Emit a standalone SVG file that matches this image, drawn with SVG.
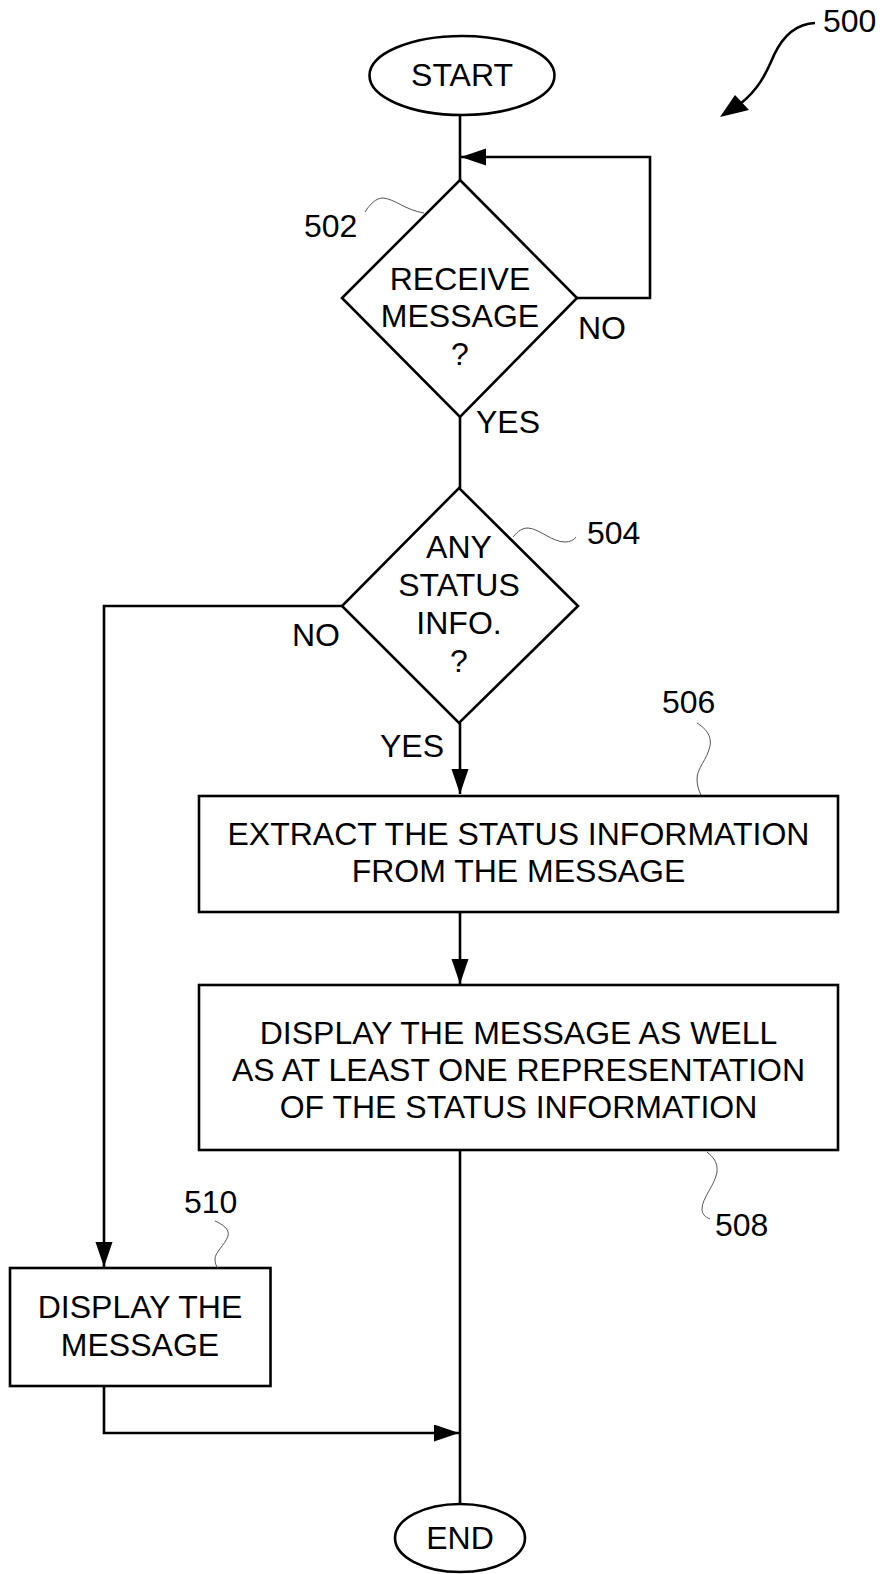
<svg xmlns="http://www.w3.org/2000/svg" width="880" height="1574" viewBox="0 0 880 1574">
<style>
  .shape { fill: #fff; stroke: #000; stroke-width: 2.6; }
  .line { fill: none; stroke: #000; stroke-width: 2.6; }
  .lead { fill: none; stroke: #555; stroke-width: 1; }
  text { font-family: "Liberation Sans", Arial, sans-serif; font-size: 32px; fill: #000; }
  .c { text-anchor: middle; }
</style>
<defs>
  <marker id="arrow" markerUnits="userSpaceOnUse" markerWidth="26" markerHeight="18" refX="25" refY="8.5" orient="auto">
    <path d="M0,0 L25,8.5 L0,17 Z" fill="#000"/>
  </marker>
</defs>
<rect width="880" height="1574" fill="#fff"/>

<g id="connectors">
  <line class="line" x1="460" y1="115" x2="460" y2="180"/>
  <path class="line" d="M577,298 H650 V157 H461" marker-end="url(#arrow)"/>
  <line class="line" x1="460" y1="417" x2="460" y2="488"/>
  <path class="line" d="M342,606 H104 V1267" marker-end="url(#arrow)"/>
  <line class="line" x1="460" y1="723" x2="460" y2="794" marker-end="url(#arrow)"/>
  <line class="line" x1="460" y1="912" x2="460" y2="984" marker-end="url(#arrow)"/>
  <line class="line" x1="460" y1="1150" x2="460" y2="1504"/>
  <path class="line" d="M104,1386 V1433 H459" marker-end="url(#arrow)"/>
  <text x="578" y="339">NO</text>
  <text x="476" y="433">YES</text>
  <text x="292" y="646">NO</text>
  <text x="380" y="757">YES</text>
</g>

<g id="ref500">
  <path class="line" d="M815,23 C795,24 782,38 774,55 C766,74 758,90 740,104"/>
  <polygon points="720,117 735,95 749,110" fill="#000"/>
  <text x="823" y="32">500</text>
</g>

<g id="start">
  <ellipse class="shape" cx="462" cy="75.5" rx="92.5" ry="39.5"/>
  <text class="c" x="462" y="86">START</text>
</g>

<g id="n502">
  <polygon class="shape" points="460,180 577,298 460,417 342,298"/>
  <text class="c" x="460" y="290">RECEIVE</text>
  <text class="c" x="460" y="327">MESSAGE</text>
  <text class="c" x="460" y="365">?</text>
  <path class="lead" d="M365,212 C370,204 376,198 383,198 C395,199 405,210 424,213"/>
  <text x="304" y="237">502</text>
</g>

<g id="n504">
  <polygon class="shape" points="459,488 578,606 459,723 342,606"/>
  <text class="c" x="459" y="558">ANY</text>
  <text class="c" x="459" y="596">STATUS</text>
  <text class="c" x="459" y="634">INFO.</text>
  <text class="c" x="459" y="672">?</text>
  <path class="lead" d="M513,537 C518,531 522,528 528,528 C540,529 552,542 565,542 C570,542 574,540 576,537"/>
  <text x="587" y="544">504</text>
</g>

<g id="n506">
  <rect class="shape" x="199" y="796" width="639" height="116"/>
  <text class="c" x="518.5" y="845">EXTRACT THE STATUS INFORMATION</text>
  <text class="c" x="518.5" y="882">FROM THE MESSAGE</text>
  <path class="lead" d="M697,723 C705,728 712,735 710,746 C707,760 697,768 697,779 C697,786 699,791 701,795"/>
  <text x="662" y="713">506</text>
</g>

<g id="n508">
  <rect class="shape" x="199" y="985" width="639" height="165"/>
  <text class="c" x="518.5" y="1044">DISPLAY THE MESSAGE AS WELL</text>
  <text class="c" x="518.5" y="1081">AS AT LEAST ONE REPRESENTATION</text>
  <text class="c" x="518.5" y="1118">OF THE STATUS INFORMATION</text>
  <path class="lead" d="M707,1152 C713,1157 718,1162 717,1172 C715,1185 702,1198 702,1209 C702,1214 705,1217 710,1219"/>
  <text x="715" y="1236">508</text>
</g>

<g id="n510">
  <rect class="shape" x="10" y="1268" width="260.5" height="118"/>
  <text class="c" x="140" y="1318">DISPLAY THE</text>
  <text class="c" x="140" y="1356">MESSAGE</text>
  <path class="lead" d="M215,1221 C222,1224 230,1229 228,1236 C225,1245 215,1252 215,1259 C215,1263 216,1266 218,1268"/>
  <text x="184" y="1213">510</text>
</g>

<g id="end">
  <ellipse class="shape" cx="460" cy="1538" rx="65" ry="34"/>
  <text class="c" x="460" y="1549">END</text>
</g>
</svg>
